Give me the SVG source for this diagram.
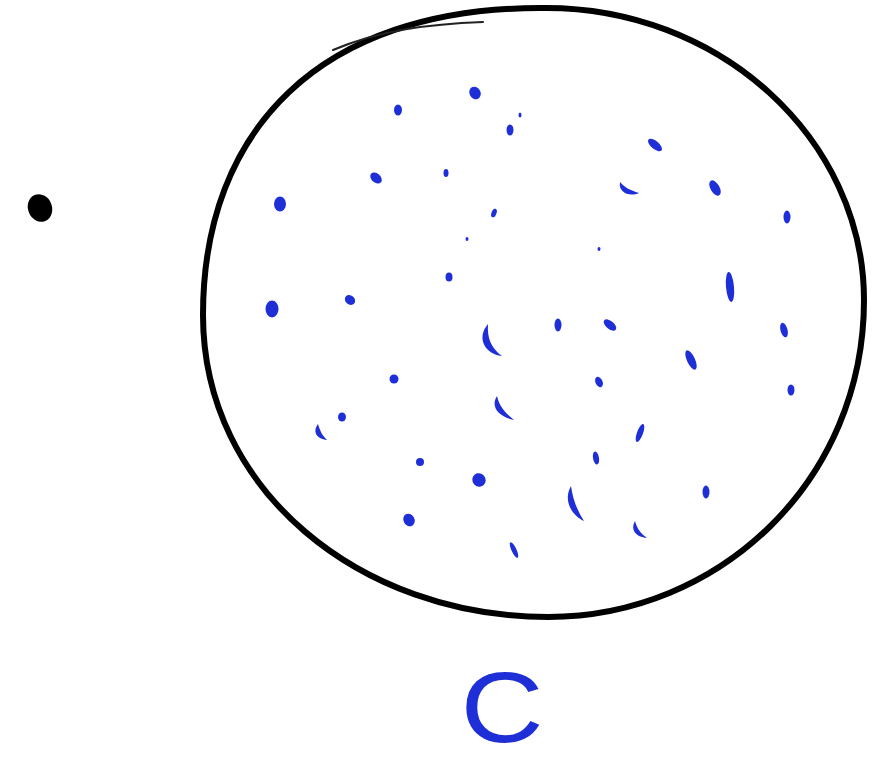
<svg xmlns="http://www.w3.org/2000/svg" width="883" height="766" viewBox="0 0 883 766">
<style>
.b{fill:#1f2fd8}
.outline{fill:none;stroke:#000;stroke-width:6;stroke-linecap:round}
.sketch{fill:none;stroke:#222;stroke-width:2;stroke-linecap:round}
.lbl{font-family:"Liberation Sans",Arial,sans-serif;font-size:100px;fill:#1f2fd8}
</style>
<rect width="883" height="766" fill="#fff"/>
<g id="point">
<ellipse cx="40" cy="208" rx="12" ry="14" transform="rotate(-20 40 208)" fill="#000"/>
</g>
<g id="set-C">
<path class="outline" d="M540,8 C720,5 864,140 864,300 C864,480 720,617 548,617 C360,617 203,490 203,315 C203,130 320,8 540,8 Z"/>
<path class="sketch" d="M333,50 C380,30 430,24 483,22"/>
<g id="dots">
<ellipse class="b" cx="475" cy="93" rx="5.5" ry="6.5" transform="rotate(-30 475 93)"/>
<ellipse class="b" cx="398" cy="110" rx="4" ry="5.5"/>
<ellipse class="b" cx="520" cy="115" rx="1.5" ry="2.5"/>
<ellipse class="b" cx="510" cy="130" rx="3.5" ry="5.5"/>
<ellipse class="b" cx="655" cy="145" rx="4" ry="8.5" transform="rotate(-50 655 145)"/>
<ellipse class="b" cx="376" cy="178" rx="4.5" ry="6.5" transform="rotate(-50 376 178)"/>
<ellipse class="b" cx="446" cy="173" rx="2.5" ry="4"/>
<path class="b" d="M620,182 C618,193 630,197 639,193 C630,190 625,188 620,182 Z"/>
<ellipse class="b" cx="715" cy="188" rx="4.5" ry="8.5" transform="rotate(-30 715 188)"/>
<ellipse class="b" cx="280" cy="204" rx="6" ry="7.5"/>
<ellipse class="b" cx="494" cy="213" rx="2.5" ry="4.5" transform="rotate(20 494 213)"/>
<ellipse class="b" cx="787" cy="217" rx="3.5" ry="6.5"/>
<ellipse class="b" cx="467" cy="239" rx="1.5" ry="2"/>
<ellipse class="b" cx="599" cy="249" rx="1.5" ry="2"/>
<ellipse class="b" cx="449" cy="277" rx="3.5" ry="4.5"/>
<ellipse class="b" cx="730" cy="287" rx="4" ry="15" transform="rotate(-5 730 287)"/>
<ellipse class="b" cx="350" cy="300" rx="4.5" ry="5.5" transform="rotate(-50 350 300)"/>
<ellipse class="b" cx="272" cy="309" rx="6.5" ry="8.5"/>
<path class="b" d="M488,324 C476,338 485,354 502,356 C491,348 487,338 488,324 Z"/>
<ellipse class="b" cx="558" cy="325" rx="3.5" ry="6.5"/>
<ellipse class="b" cx="610" cy="325" rx="4" ry="7.5" transform="rotate(-50 610 325)"/>
<ellipse class="b" cx="784" cy="330" rx="3.5" ry="7.5" transform="rotate(-15 784 330)"/>
<ellipse class="b" cx="691" cy="360" rx="4" ry="10.5" transform="rotate(-25 691 360)"/>
<ellipse class="b" cx="394" cy="379" rx="4.5" ry="4.5"/>
<ellipse class="b" cx="599" cy="382" rx="3.5" ry="5.5" transform="rotate(-25 599 382)"/>
<ellipse class="b" cx="791" cy="390" rx="3.5" ry="5.5"/>
<path class="b" d="M497,396 C490,407 499,417 514,420 C504,412 499,405 497,396 Z"/>
<ellipse class="b" cx="342" cy="417" rx="4" ry="4.5"/>
<path class="b" d="M318,424 C312,432 317,439 327,440 C321,434 320,430 318,424 Z"/>
<ellipse class="b" cx="640" cy="433" rx="3" ry="9.5" transform="rotate(20 640 433)"/>
<ellipse class="b" cx="420" cy="462" rx="4" ry="4"/>
<ellipse class="b" cx="596" cy="458" rx="3" ry="6.5" transform="rotate(-10 596 458)"/>
<ellipse class="b" cx="479" cy="480" rx="6.5" ry="7" transform="rotate(-40 479 480)"/>
<path class="b" d="M571,486 C563,500 571,515 584,521 C577,510 573,500 571,486 Z"/>
<ellipse class="b" cx="706" cy="492" rx="3.5" ry="6.5"/>
<ellipse class="b" cx="409" cy="520" rx="5.5" ry="6.5" transform="rotate(-30 409 520)"/>
<path class="b" d="M635,521 C630,530 636,537 647,538 C640,533 637,528 635,521 Z"/>
<ellipse class="b" cx="514" cy="550" rx="2.5" ry="8.5" transform="rotate(-25 514 550)"/>
</g>
</g>
<g id="label">
<text class="lbl" x="0" y="0" text-anchor="middle" transform="translate(502 742) scale(1.15 1)">C</text>
</g>
</svg>
